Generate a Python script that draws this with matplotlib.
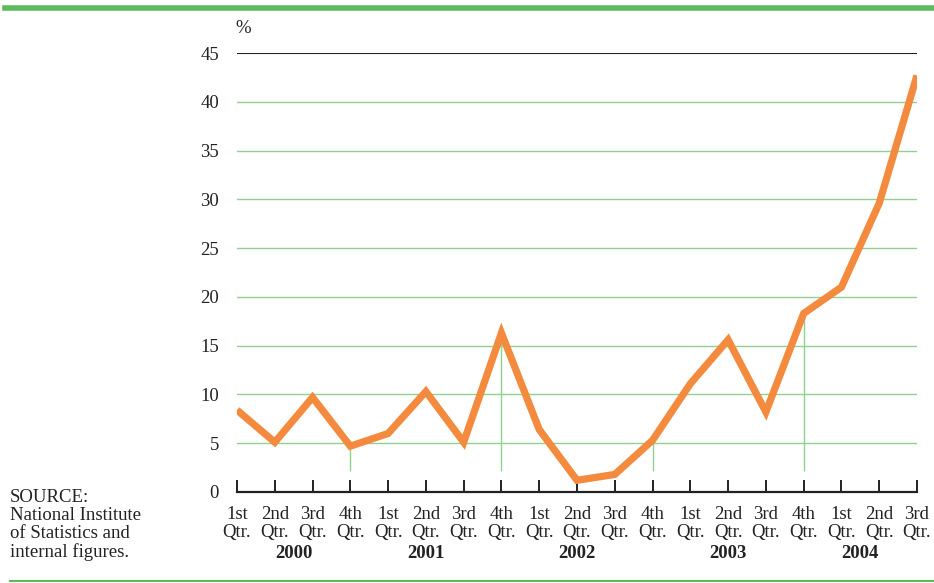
import numpy as np
import matplotlib.pyplot as plt

# quarterly growth, 2000 Q1 .. 2004 Q3
quarters = ["1st\nQtr.", "2nd\nQtr.", "3rd\nQtr.", "4th\nQtr."] * 4 + ["1st\nQtr.", "2nd\nQtr.", "3rd\nQtr."]
values = [8.4, 5.1, 9.7, 4.7, 6.0, 10.3, 5.1, 16.3, 6.4, 1.2, 1.8, 5.3,
          11.1, 15.6, 8.2, 18.3, 21.0, 29.6, 42.7]
years = ["2000", "2001", "2002", "2003", "2004"]
year_pos = [1.5, 5.0, 9.0, 13.0, 16.5]
yticks = [0, 5, 10, 15, 20, 25, 30, 35, 40, 45]
year_end_idx = [3, 7, 11, 15]

orange = "#F38A3D"
green = "#5DBB5D"
grid_green = "#8FD18F"
ink = "#222222"
plt.rcParams['font.family'] = ['Liberation Serif', 'DejaVu Serif']

fig = plt.figure(figsize=(9.34, 5.83), dpi=100)
ax = fig.add_axes([237 / 934, 1 - 492 / 583, 680 / 934, 439 / 583])
x = np.arange(len(values))

for t in yticks[1:-1]:
    ax.axhline(t, color=grid_green, lw=1.0, zorder=1)
ax.axhline(45, color=ink, lw=1.5, zorder=1)

# year separators below the line
ax.vlines(year_end_idx, 2.2, [values[i] for i in year_end_idx], color=grid_green, lw=1.0, zorder=1)

ax.plot(x, values, color=orange, lw=5.2, solid_joinstyle="miter", solid_capstyle="butt", zorder=3)

ax.set_xlim(0, len(values) - 1)
ax.set_ylim(0, 45)
for s in ["top", "right", "left"]:
    ax.spines[s].set_visible(False)
ax.spines["bottom"].set_linewidth(1.6)
ax.spines["bottom"].set_color(ink)
ax.spines["bottom"].set_zorder(4)

ax.set_xticks(x)
ax.set_xticklabels(quarters, fontsize=13.5, color=ink, linespacing=1.05)
ax.tick_params(axis="x", direction="in", length=9, width=1.4, color=ink, pad=10)
ax.set_yticks(yticks)
ax.set_yticklabels([str(t) for t in yticks], fontsize=13.5, color=ink)
ax.tick_params(axis="y", length=0, pad=13)

for pos, yr in zip(year_pos, years):
    ax.text(pos, -0.139, yr, transform=ax.get_xaxis_transform(), ha="center", va="center",
            fontsize=13.5, fontweight="bold", color=ink)

ax.text(6 / 680, 1.055, "%", transform=ax.transAxes, ha="center", va="center", fontsize=13.5, color=ink)

fig.text(10 / 934, 1 - 489 / 583, "SOURCE:\nNational Institute\nof Statistics and\ninternal figures.",
         ha="left", va="top", fontsize=13.5, color=ink, linespacing=1.08)

# green rules at top and bottom
fig.add_artist(plt.Line2D([5 / 934, 1.0], [1 - 8 / 583] * 2, color=green, lw=4, transform=fig.transFigure))
fig.add_artist(plt.Line2D([10 / 934, 1.0], [1 - 581 / 583] * 2, color=green, lw=1.5, transform=fig.transFigure))

fig.savefig("out.png", dpi=100)
